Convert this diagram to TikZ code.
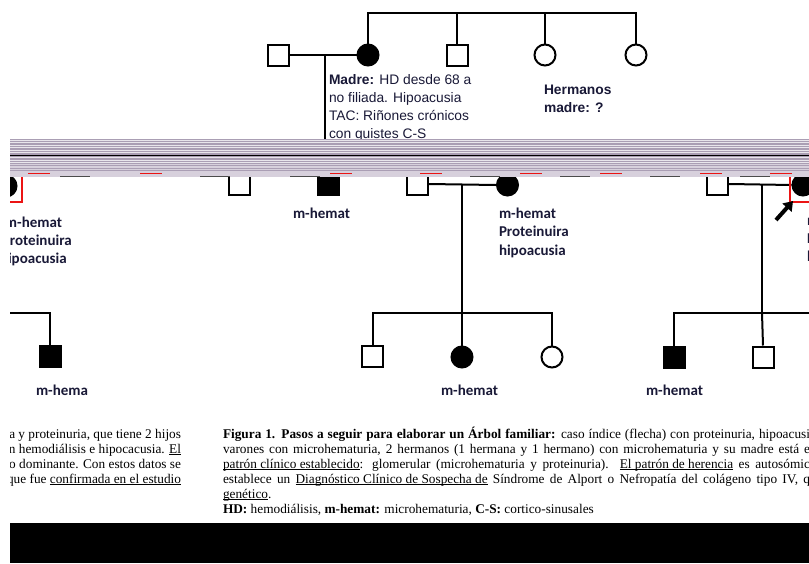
\documentclass[tikz,border=0pt]{standalone}
\usepackage{fontspec}
\setmainfont{Liberation Serif}
\newfontfamily\arialf{Liberation Sans}
\newfontfamily\calibf{Carlito}
\usetikzlibrary{arrows.meta}
\definecolor{ink}{RGB}{25,25,55}
\definecolor{bandc}{RGB}{170,158,180}
\definecolor{bandl}{RGB}{215,208,220}
\definecolor{redl}{RGB}{235,20,20}
\newcommand{\ulx}[1]{\underline{\vphantom{x}\smash{#1}}}
\begin{document}
\begin{tikzpicture}[x=1pt,y=-1pt,line width=2pt,
  male/.style={draw,rectangle,minimum size=21pt,inner sep=0pt},
  female/.style={draw,circle,minimum size=21pt,inner sep=0pt},
  aff/.style={fill=black},
  lbl/.style={font=\calibf\bfseries\fontsize{15}{18}\selectfont,text=ink,anchor=base west,inner sep=0pt,align=left},
  note/.style={font=\arialf\fontsize{13.8}{17.7}\selectfont,text=ink,anchor=base west,inner sep=0pt,align=left},
  body/.style={font=\fontsize{13.3}{15}\selectfont,text=black,inner sep=0pt},
  redbox/.style={draw=redl,line width=2pt},
  conn/.style={draw=black,line width=2pt}]
\clip (0,0) rectangle (809,563);
\fill[white] (0,0) rectangle (809,563);

% ---------- top generation ----------
\node[male] (f0) at (278,55) {};
\node[female,aff] (m0) at (368,55) {};
\node[male] (u1) at (457,55) {};
\node[female] (a1) at (545,55) {};
\node[female] (a2) at (636,55) {};
\coordinate (s0) at (368,13);
\draw[conn] (m0.north) -- (s0) -| (a2.north);
\draw[conn] (u1.north) -- (u1 |- s0);
\draw[conn] (a1.north) -- (a1 |- s0);
\draw[conn] (f0.east) -- (m0.west);
\coordinate (d0) at (325,55);
\coordinate (d0b) at (325,145);
\draw[conn] (d0) -- (d0b);
\node[note] (madre) at (328,138) {\textbf{Madre:} HD desde 68 a\\no filiada. Hipoacusia\\TAC: Riñones crónicos\\con quistes C-S};
\node[note,font=\arialf\bfseries\fontsize{13.8}{17.5}\selectfont] (herm) at (543,112) {Hermanos\\madre: ?};

% ---------- middle generation ----------
\node[female,aff] (ml) at (6,186) {};
\node[male] (q1) at (239,184) {};
\node[male,aff] (q2) at (328.5,184) {};
\node[male] (q3) at (417.5,184) {};
\node[female,aff] (c3) at (507.5,185) {};
\node[male] (q4) at (717.5,184) {};
\node[female,aff] (c4) at (803,185) {};
\draw[conn] (q3.east) -- (c3.west);
\draw[conn] (q4.east) -- (c4.west);
\coordinate (d3) at (462,185);
\coordinate (d4) at (762,185);
\coordinate (s3) at (462,313);
\coordinate (s4) at (762,313);
\draw[conn] (d3) -- (s3);
\draw[conn] (d4) -- (s4);
% red frames
\coordinate (rl1) at (22,170);
\coordinate (rl2) at (22,202);
\coordinate (rl3) at (0,202);
\draw[redbox] (rl1) -- (rl2) -- (rl3);
\coordinate (rr1) at (790,170);
\coordinate (rr2) at (790,202);
\coordinate (rr3) at (815,202);
\draw[redbox] (rr1) -- (rr2) -- (rr3);
% arrow to index case
\coordinate (ar0) at (776,220);
\coordinate (ar1) at (793,201);
\draw[line width=4pt,-{Triangle[length=9pt,width=12pt]}] (ar0) -- (ar1);

\node[lbl] (tl) at (4,227) {m-hemat};
\node[lbl] (tl2) at (1,245) {Proteinuira};
\node[lbl] (tl3) at (-1,263) {hipoacusia};
\node[lbl] (t2) at (292,218) {m-hemat};
\node[lbl] (t3a) at (498,218) {m-hemat};
\node[lbl] (t3b) at (498,236) {Proteinuira};
\node[lbl] (t3c) at (498,255) {hipoacusia};
\node[lbl] (t4a) at (806,225) {m-hemat};
\node[lbl] (t4b) at (806,243) {Proteinuria};
\node[lbl] (t4c) at (806,261) {hipoacusia};

% ---------- bottom generation ----------
\node[male,aff] (b1) at (50,356) {};
\coordinate (bl) at (0,313);
\draw[conn] (bl) -| (b1.north);
\node[male] (b2) at (372.5,356) {};
\node[female,aff] (b3) at (462,357) {};
\node[female] (b4) at (552,357) {};
\draw[conn] (b2.north) |- (s3) -| (b4.north);
\draw[conn] (s3) -- (b3.north);
\node[male,aff] (b5) at (674,357) {};
\node[male] (b6) at (763,357) {};
\coordinate (br) at (815,313);
\draw[conn] (b5.north) |- (br);
\draw[conn] (s4) -- (b6.north);
\begin{scope}
\clip (0,370) rectangle (87,410);
\node[lbl] (u1t) at (35,395) {m-hemat};
\end{scope}
\node[lbl] (u3t) at (440,395) {m-hemat};
\node[lbl] (u5t) at (645,395) {m-hemat};

% ---------- scan band ----------
\fill[bandc] (8,139) rectangle (809,164);
\foreach \yy in {140,142.5,...,163} \draw[white,line width=0.6pt,opacity=0.75] (8,\yy) -- (809,\yy);
\draw[black,line width=1.3pt] (8,155.5) -- (809,155.5);
\fill[bandl] (8,164) rectangle (809,177);
\foreach \yy in {165.5,168,170.5} \draw[bandc,line width=0.7pt] (8,\yy) -- (809,\yy);
\foreach \xx in {28,140,330,420,520,600,700,770} \draw[redl,line width=1pt] (\xx,173.5) -- ++(22,0);
\foreach \xx in {60,200,290,470,560,650,740} \draw[black!70,line width=1pt] (\xx,176) -- ++(30,0);

% ---------- caption text ----------
\node[body,anchor=base east] (l1) at (182,438) {ia y proteinuria, que tiene 2 hijos};
\node[body,anchor=base east] (l2) at (182,453) {en hemodiálisis e hipocacusia. \ulx{El}};
\node[body,anchor=base east] (l3) at (182,468) {o dominante. Con estos datos se};
\node[body,anchor=base east] (l4) at (182,483) {que fue \ulx{confirmada en el estudio}};
\node[body,anchor=base west] (r1) at (222,438) {\hbox to 587pt{\textbf{Figura 1. Pasos a seguir para elaborar un Árbol familiar:} caso índice (flecha) con proteinuria, hipoacusi}};
\node[body,anchor=base west] (r2) at (222,453) {\hbox to 587pt{varones con microhematuria, 2 hermanos (1 hermana y 1 hermano) con microhematuria y su madre está e}};
\node[body,anchor=base west] (r3) at (222,468) {\hbox to 587pt{\ulx{patrón clínico establecido}: glomerular (microhematuria y proteinuria). \ulx{El patrón de herencia} es autosómic}};
\node[body,anchor=base west] (r4) at (222,483) {\hbox to 587pt{establece un \ulx{Diagnóstico Clínico de Sospecha de} Síndrome de Alport o Nefropatía del colágeno tipo IV, q}};
\node[body,anchor=base west] (r5) at (222,498) {\ulx{genético}.};
\node[body,anchor=base west] (r6) at (222,513) {\textbf{HD:} hemodiálisis, \textbf{m-hemat:} microhematuria, \textbf{C-S:} cortico-sinusales};

% margins and black bar
\fill[white] (0,139) rectangle (10,563);
\fill[black] (10,523) rectangle (809,563);
\end{tikzpicture}
\end{document}
